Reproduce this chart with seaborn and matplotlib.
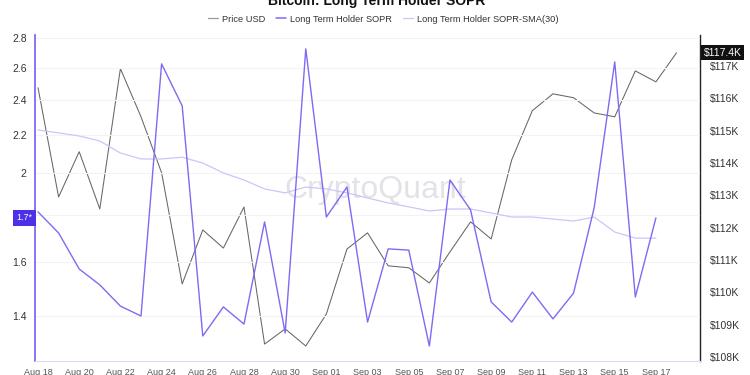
import pandas as pd
import matplotlib
matplotlib.use("Agg")
import matplotlib.pyplot as plt
import matplotlib.dates as mdates
import matplotlib.transforms as mtransforms
from matplotlib.ticker import FixedLocator, FuncFormatter
from matplotlib.lines import Line2D
import seaborn as sns

# daily data, Aug 18 -> Sep 18 (price has one more day than SOPR)
dates = pd.date_range("2025-08-18", "2025-09-18", freq="D")
price_k = [116.33, 112.95, 114.35, 112.58, 116.92, 115.43, 113.70, 110.26,
           111.93, 111.37, 112.64, 108.40, 108.87, 108.34, 109.33, 111.34,
           111.84, 110.82, 110.76, 110.29, 111.25, 112.18, 111.65, 114.10,
           115.62, 116.14, 116.02, 115.55, 115.43, 116.85, 116.51, 117.41]
sopr = [1.815, 1.722, 1.574, 1.513, 1.435, 1.400, 2.625, 2.364,
        1.332, 1.432, 1.372, 1.770, 1.342, 2.725, 1.792, 1.931,
        1.379, 1.655, 1.650, 1.299, 1.965, 1.824, 1.450, 1.379,
        1.486, 1.390, 1.482, 1.833, 2.638, 1.468, 1.788]
sopr_sma30 = [2.226, 2.210, 2.193, 2.166, 2.102, 2.071, 2.071, 2.080,
              2.050, 2.000, 1.965, 1.922, 1.903, 1.931, 1.922, 1.903,
              1.879, 1.856, 1.838, 1.819, 1.828, 1.828, 1.810, 1.792,
              1.792, 1.783, 1.774, 1.792, 1.726, 1.700, 1.700]

left_ticks = [1.4, 1.6, 1.8, 2.0, 2.2, 2.4, 2.6, 2.8]
left_labels = ["1.4", "1.6", "", "2", "2.2", "2.4", "2.6", "2.8"]
right_ticks = [108, 109, 110, 111, 112, 113, 114, 115, 116, 117]

c_price = "#666666"
c_sopr = "#7d6bf3"
c_sma = "#cbc6f7"

sns.set_style("white")
plt.rcParams["font.family"] = ["Liberation Sans", "DejaVu Sans"]

df_price = pd.DataFrame({"date": dates, "price": price_k})
df_sopr = pd.DataFrame({"date": dates[:len(sopr)], "sopr": sopr, "sma": sopr_sma30})

fig = plt.figure(figsize=(7.5, 3.75), dpi=100)
ax = fig.add_axes([0.04667, 0.03733, 0.88667, 0.86933])
ax2 = ax.twinx()
ax.set_zorder(ax2.get_zorder() + 1)
ax.patch.set_visible(False)

sns.lineplot(data=df_price, x="date", y="price", ax=ax2, color=c_price, linewidth=0.75)
sns.lineplot(data=df_sopr, x="date", y="sma", ax=ax, color=c_sma, linewidth=0.9)
sns.lineplot(data=df_sopr, x="date", y="sopr", ax=ax, color=c_sopr, linewidth=1.0)

ax.set_yscale("log")
ax.set_ylim(1.2514, 2.821)
ax2.set_ylim(107.876, 117.96)
ax.set_xlim(dates[0] - pd.Timedelta(hours=3.5), dates[0] + pd.Timedelta(days=32.14))

ax.yaxis.set_major_locator(FixedLocator(left_ticks))
ax.yaxis.set_minor_locator(FixedLocator([]))
ax.set_yticklabels(left_labels)
ax.yaxis.grid(True, color="#f3f3f5", linewidth=0.8)
ax.xaxis.grid(False)

ax2.yaxis.set_major_locator(FixedLocator(right_ticks))
ax2.yaxis.set_major_formatter(FuncFormatter(lambda v, p: f"${v:.0f}K"))
ax2.grid(False)

ax.xaxis.set_major_locator(FixedLocator(mdates.date2num(dates[:31:2])))
ax.xaxis.set_major_formatter(mdates.DateFormatter("%b %d"))

for a in (ax, ax2):
    a.set_xlabel("")
    a.set_ylabel("")
    for s in a.spines.values():
        s.set_visible(False)
ax.spines["left"].set_visible(True)
ax.spines["left"].set_color(c_sopr)
ax.spines["left"].set_linewidth(1.3)
ax.spines["bottom"].set_visible(True)
ax.spines["bottom"].set_color("#dedbf7")
ax2.spines["right"].set_visible(True)
ax2.spines["right"].set_color("#222222")
ax2.spines["right"].set_linewidth(1.0)

ax.tick_params(axis="y", length=0, labelsize=7.5, labelcolor="#333333", pad=6)
ax.tick_params(axis="x", length=3, color="#dedbf7", labelsize=6.5, labelcolor="#555555", pad=2)
ax2.tick_params(axis="y", length=0, labelsize=7.5, labelcolor="#333333", pad=7)

# last-value markers on both axes
bl = mtransforms.blended_transform_factory(ax.transAxes, ax.transData)
ax.text(-0.004, sopr[-1], "1.7*", transform=bl, ha="right", va="center",
        fontsize=6.5, color="white",
        bbox=dict(boxstyle="square,pad=0.35", fc="#4b31e8", ec="none"))
br = mtransforms.blended_transform_factory(ax2.transAxes, ax2.transData)
ax2.text(1.006, price_k[-1], f"${price_k[-1]:.1f}K", transform=br, ha="left", va="center",
         fontsize=7.5, color="white",
         bbox=dict(boxstyle="square,pad=0.25", fc="#111111", ec="none"))

# watermark
ax2.text(0.5, 1 - 190 / 375, "CryptoQuant", transform=fig.transFigure, ha="center",
         va="center", fontsize=23, color="#e2e2e9", zorder=0)

fig.text(0.502, 1 - 5 / 375, "Bitcoin: Long Term Holder SOPR", ha="center",
         va="baseline", fontsize=10, fontweight="bold", color="#111111")

handles = [Line2D([], [], color="#999999", lw=0.9),
           Line2D([], [], color=c_sopr, lw=1.1),
           Line2D([], [], color=c_sma, lw=0.9)]
fig.legend(handles, ["Price USD", "Long Term Holder SOPR", "Long Term Holder SOPR-SMA(30)"],
           loc="center", bbox_to_anchor=(383 / 750, 1 - 19 / 375), ncol=3, frameon=False,
           fontsize=6.7, handlelength=1.1, handletextpad=0.4, columnspacing=1.2,
           labelcolor="#333333")

fig.savefig("out.png", dpi=100)
